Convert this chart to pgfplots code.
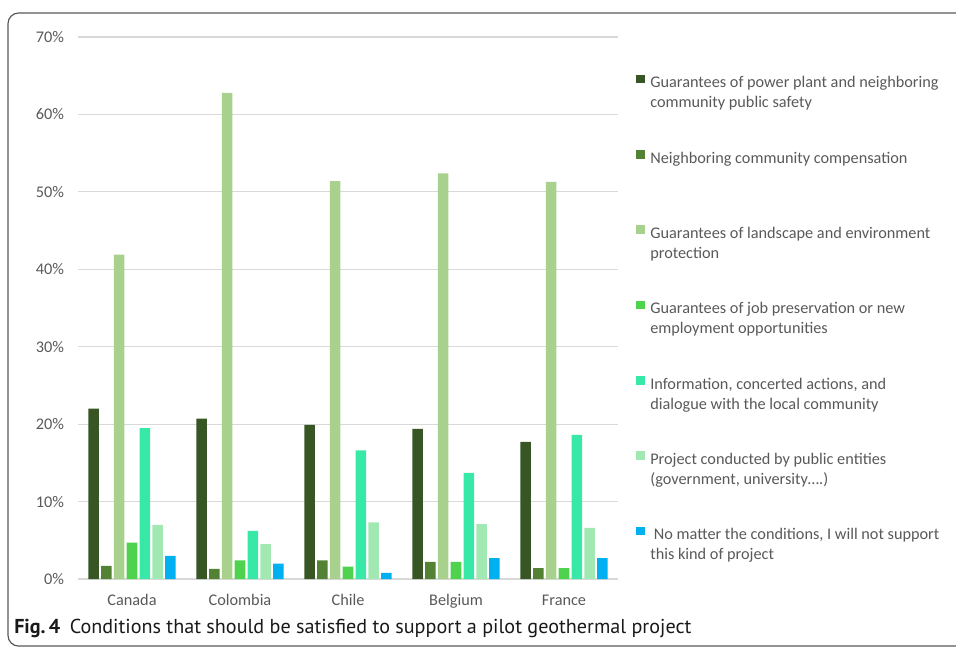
\documentclass[border=0pt]{standalone}
\usepackage{pgfplots}
\pgfplotsset{compat=1.18}
\usepackage{fontspec}
\setmainfont{Carlito}
\newfontfamily\capfont{PT Sans}

\definecolor{cA}{HTML}{375623}
\definecolor{cB}{HTML}{548235}
\definecolor{cC}{HTML}{A9D18E}
\definecolor{cD}{HTML}{4FD34F}
\definecolor{cE}{HTML}{38E8A6}
\definecolor{cF}{HTML}{A2E8B2}
\definecolor{cG}{HTML}{00B0F0}
\definecolor{gridgray}{HTML}{D9D9D9}
\definecolor{labelgray}{HTML}{595959}

\newcommand{\entry}[1]{\parbox[t]{240pt}{#1}}

\begin{document}
\begin{tikzpicture}[x=1pt,y=1pt]
\useasboundingbox (-58.5,-51) rectangle (658.5,434.25);
\draw[rounded corners=8pt, draw=black!65, line width=0.9pt] (-52.5,-50.3) rectangle (700,424.5);
\begin{axis}[
  at={(0,0)}, anchor=south west,
  scale only axis, width=405pt, height=406.5pt,
  xmin=-0.5, xmax=4.5, ymin=0, ymax=70,
  ybar=1.7pt, bar width=7.9pt,
  xtick={0,1,2,3,4},
  xticklabels={Canada,Colombia,Chile,Belgium,France},
  ytick={0,10,...,70},
  yticklabel={\pgfmathprintnumber{\tick}\%},
  /pgf/number format/assume math mode=true,
  ymajorgrids, grid style={draw=gridgray, line width=0.8pt},
  axis line style={draw=none}, major tick length=0pt,
  tick label style={font=\fontsize{12.2}{14}\selectfont, text=labelgray},
  xticklabel style={anchor=base, yshift=-19.5pt},
  yticklabel style={anchor=east, xshift=-7pt},
  legend style={at={(axis description cs:1.026,0.936)}, anchor=north west,
    draw=none, fill=none, row sep=45pt, nodes={inner sep=0pt},
    font=\fontsize{12.2}{15}\selectfont, text=labelgray},
  legend cell align=left,
  legend image code/.code={\fill[#1] (0pt,0pt) rectangle (6.5pt,6.5pt); \path (10.5pt,0pt);},
]
\addplot[fill=cA, draw=none] coordinates {(0,22.0) (1,20.7) (2,19.9) (3,19.4) (4,17.7)};
\addlegendentry{\entry{Guarantees of power plant and neighboring\\community public safety}}
\addplot[fill=cB, draw=none] coordinates {(0,1.7) (1,1.3) (2,2.4) (3,2.2) (4,1.4)};
\addlegendentry{\entry{Neighboring community compensation}}
\addplot[fill=cC, draw=none] coordinates {(0,41.9) (1,62.8) (2,51.4) (3,52.4) (4,51.3)};
\addlegendentry{\entry{Guarantees of landscape and environment\\protection}}
\addplot[fill=cD, draw=none] coordinates {(0,4.7) (1,2.4) (2,1.6) (3,2.2) (4,1.4)};
\addlegendentry{\entry{Guarantees of job preservation or new\\employment opportunities}}
\addplot[fill=cE, draw=none] coordinates {(0,19.5) (1,6.2) (2,16.6) (3,13.7) (4,18.6)};
\addlegendentry{\entry{Information, concerted actions, and\\dialogue with the local community}}
\addplot[fill=cF, draw=none] coordinates {(0,7.0) (1,4.5) (2,7.3) (3,7.1) (4,6.6)};
\addlegendentry{\entry{Project conducted by public entities\\(government, university\dots.)}}
\addplot[fill=cG, draw=none] coordinates {(0,3.0) (1,2.0) (2,0.8) (3,2.7) (4,2.7)};
\addlegendentry{\entry{\ No matter the conditions, I will not support\\this kind of project}}
\end{axis}
\node[anchor=base west, inner sep=0pt, text=black!90] at (-48,-40.5)
  {\capfont\fontsize{15.1}{17}\selectfont\textbf{Fig.\,4}\hspace{7pt}Conditions that should be satisfied to support a pilot geothermal project};
\end{tikzpicture}
\end{document}
